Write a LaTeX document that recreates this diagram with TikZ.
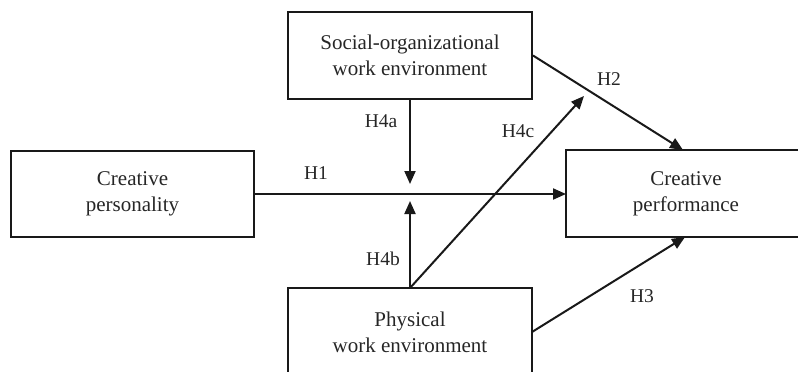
\documentclass[tikz,border=0pt]{standalone}
\usepackage{fontspec}
\setmainfont{Liberation Serif}
\usetikzlibrary{arrows.meta,calc}
\begin{document}
\begin{tikzpicture}[x=1pt,y=-1pt,
  box/.style={draw=black!90,line width=2pt,align=center,inner sep=0pt,
    font=\fontsize{21}{26}\selectfont,text=black!85},
  openbox/.style={box,draw=none,outer sep=0pt},
  edge line/.style={line width=2pt,draw=black!90},
  lbl/.style={font=\fontsize{19.5}{22}\selectfont,text=black!85},
  conn/.style={line width=2pt,draw=black!90,-{Triangle[length=13pt,width=11pt]}}]
\useasboundingbox (0,0) rectangle (798,372);
\node[box,minimum width=244pt,minimum height=87pt] (soc) at (410,55.5) {Social-organizational\\work environment};
\node[box,minimum width=243pt,minimum height=86pt] (pers) at (132.5,194) {Creative\\personality};
\node[openbox,minimum width=240pt,minimum height=87pt] (perf) at (686,193.5) {Creative\\performance};
\draw[edge line] (perf.north west) -- (perf.south west)
  ([xshift=-1pt]perf.north west) -- ([xshift=-5pt]perf.north east)
  ([xshift=-1pt]perf.south west) -- ([xshift=-5pt]perf.south east);
\node[openbox,minimum width=244pt,minimum height=89pt] (phys) at (410,332.5) {Physical\\work environment};
\draw[edge line] ([yshift=-1pt]phys.south west) -- (phys.north west) -- (phys.north east) -- ([yshift=-1pt]phys.south east);
\coordinate (a4) at (410,184);
\coordinate (b4) at (410,201);
\coordinate (c4) at (584,96);
\coordinate (h2end) at (683,150);
\coordinate (h3end) at (685,237);
\draw[conn] (pers.east) -- (perf.west |- pers.east);
\draw[conn] (soc.south) -- (a4);
\draw[conn] (phys.north) -- (b4);
\draw[conn] (phys.north) -- (c4);
\draw[conn] (soc.east) -- (h2end);
\draw[conn] (phys.east |- 0,332) -- (h3end);
\node[lbl] (l1) at (316,173) {H1};
\node[lbl] (l4a) at (381,121) {H4a};
\node[lbl] (l4b) at (383,259) {H4b};
\node[lbl] (l4c) at (518,131) {H4c};
\node[lbl] (l2) at (609,79) {H2};
\node[lbl] (l3) at (642,296) {H3};
\end{tikzpicture}
\end{document}
